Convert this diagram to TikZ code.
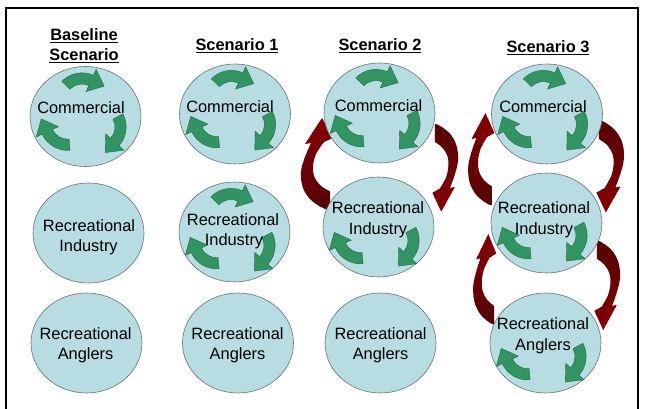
\documentclass[tikz,border=0pt]{standalone}
\usepackage{fontspec}
\setmainfont{Liberation Sans}
\usetikzlibrary{shapes.geometric}
\definecolor{circfill}{RGB}{183,221,226}
\definecolor{circline}{RGB}{105,115,118}
\definecolor{garrow}{RGB}{50,148,98}
\definecolor{garrowline}{RGB}{30,100,62}
\definecolor{rbright}{RGB}{134,0,4}
\definecolor{rdark}{RGB}{82,4,4}
\tikzset{
  circ/.style={draw=circline, fill=circfill, line width=0.6pt, ellipse, minimum width=111pt, minimum height=100pt, inner sep=0pt},
  lbl/.style={font=\fontsize{16.4}{20}\selectfont, inner sep=0pt, anchor=base},
  ttl/.style={font=\fontsize{16.4}{20}\selectfont\bfseries, inner sep=0pt, anchor=base},
  garrowsty/.style={fill=garrow, draw=garrowline, line width=0.35pt, line join=miter},
  frame/.style={line width=2pt, draw=black},
}
\newcommand\garrowat[3]{\begin{scope}[shift={({#1},{#2})}, scale=1.02, yscale=-1, rotate=#3]
\path[garrowsty, shift={(0,-21)}] (140:27.5) arc[start angle=140,end angle=70,radius=27.5] -- (70:34) -- (20.7,15.9) -- (70:10) -- (70:16.5) arc[start angle=70,end angle=140,radius=16.5] -- cycle;
\end{scope}}
\newcommand\gtop[2]{\garrowat{#1-2}{#2-37}{4}}
\newcommand\gright[2]{\garrowat{#1+32.5}{#2+18.5}{112}}
\newcommand\gleft[2]{\garrowat{#1-33}{#2+21}{-135}}
\newcommand\redarrow[5]{%
\begin{scope}[shift={(#1,#2)}, rotate=#3, xscale=#4, yscale=#5]
\begin{scope}
\clip (6,-46) -- (17,-26) -- (8,-22) -- plot[smooth,tension=0.6] coordinates {(8,-22) (0,-10) (-3,2) (-2,12) (4,21) (13,27) (14,27.5)} -- (14,46) -- plot[smooth,tension=0.6] coordinates {(14,46) (10,45.5) (-4,37) (-13,24) (-15,8) (-11,-7) (-5,-21)} -- (-11,-20) -- cycle;
\foreach \i in {0,...,11}{\pgfmathsetmacro\pc{100-\i*9}\fill[rbright!\pc!rdark] (-20,{-48+\i*8.2}) rectangle (20,{-39+\i*8.2});}
\end{scope}
\end{scope}}
\begin{document}
\begin{tikzpicture}[x=1pt,y=-1pt]
\useasboundingbox (0,0) rectangle (645,409);
\fill[white] (0,0) rectangle (645,409);
\draw[frame] (6,412) -- (6,8) -- (638,8) -- (638,412);

% red arrows
\redarrow{316}{164}{0}{1}{1}
\redarrow{446}{168}{180}{0.8}{0.95}
\redarrow{480.5}{159}{0}{0.82}{1}
\redarrow{611}{166.5}{180}{0.86}{1}
\redarrow{484}{279}{0}{0.72}{0.98}
\redarrow{608}{285.5}{180}{0.8}{0.97}

% circles
\node[circ] (b-com) at (85.5,116.5) {};
\node[circ] (b-ind) at (88.5,233) {};
\node[circ] (b-ang) at (86.5,343) {};
\node[circ] (s1-com) at (235,114) {};
\node[circ] (s1-ind) at (234.5,232) {};
\node[circ] (s1-ang) at (238,343) {};
\node[circ] (s2-com) at (379.5,113) {};
\node[circ] (s2-ind) at (378.5,227) {};
\node[circ] (s2-ang) at (380.5,343) {};
\node[circ] (s3-com) at (547,114) {};
\node[circ] (s3-ind) at (546.5,223) {};
\node[circ] (s3-ang) at (545.5,343) {};

% green arrows
\gtop{85.5}{116.5}\gright{85.5}{116.5}\gleft{85.5}{116.5}
\gtop{235}{114}\gright{235}{114}\gleft{235}{114}
\gtop{234.5}{232}\gright{234.5}{235}\gleft{234.5}{235}
\gtop{379.5}{113}\gright{379.5}{113}\gleft{379.5}{113}
\gright{378.5}{230}\gleft{378.5}{230}
\gtop{547}{114}\gright{547}{114}\gleft{547}{114}
\gright{546.5}{225}\gleft{546.5}{225}
\gright{545.5}{346}\gleft{545.5}{346}

% titles
\node[ttl] (tb1) at (84,41) {\underline{Baseline}};
\node[ttl] (tb2) at (84,61) {\underline{Scenario}};
\node[ttl] (t1) at (237,51) {\underline{Scenario 1}};
\node[ttl] (t2) at (380,51) {\underline{Scenario 2}};
\node[ttl] (t3) at (548,53) {\underline{Scenario 3}};

% labels
\node[lbl] (b-com-t) at (81,114) {Commercial};
\node[lbl] (b-ind-t1) at (89,231) {Recreational};
\node[lbl] (b-ind-t2) at (88.5,251) {Industry};
\node[lbl] (b-ang-t1) at (85.6,339) {Recreational};
\node[lbl] (b-ang-t2) at (85.6,359) {Anglers};
\node[lbl] (s1-com-t) at (230,113) {Commercial};
\node[lbl] (s1-ind-t1) at (233,225) {Recreational};
\node[lbl] (s1-ind-t2) at (234,245) {Industry};
\node[lbl] (s1-ang-t1) at (237.5,339) {Recreational};
\node[lbl] (s1-ang-t2) at (237.5,359) {Anglers};
\node[lbl] (s2-com-t) at (378.6,112) {Commercial};
\node[lbl] (s2-ind-t1) at (378,213) {Recreational};
\node[lbl] (s2-ind-t2) at (378,234) {Industry};
\node[lbl] (s2-ang-t1) at (380.6,339) {Recreational};
\node[lbl] (s2-ang-t2) at (380.6,359) {Anglers};
\node[lbl] (s3-com-t) at (543,113) {Commercial};
\node[lbl] (s3-ind-t1) at (544,213) {Recreational};
\node[lbl] (s3-ind-t2) at (544,234) {Industry};
\node[lbl] (s3-ang-t1) at (543,329) {Recreational};
\node[lbl] (s3-ang-t2) at (543,350) {Anglers};
\end{tikzpicture}
\end{document}
